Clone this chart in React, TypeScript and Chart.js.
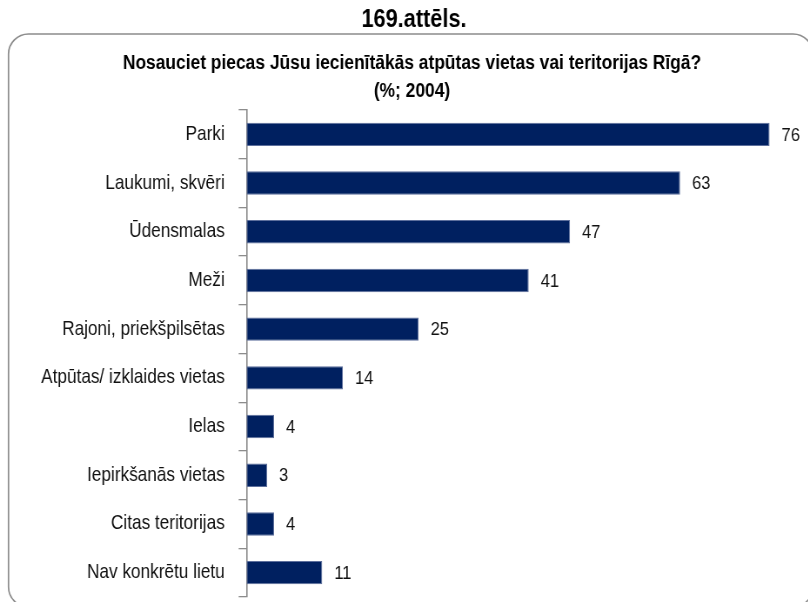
import React, { useEffect, useRef } from "react";
import { Chart, registerables } from "chart.js";

Chart.register(...registerables);

const categories = [
  "Parki",
  "Laukumi, skvēri",
  "Ūdensmalas",
  "Meži",
  "Rajoni, priekšpilsētas",
  "Atpūtas/ izklaides vietas",
  "Ielas",
  "Iepirkšanās vietas",
  "Citas teritorijas",
  "Nav konkrētu lietu",
];
const values = [76, 63, 47, 41, 25, 14, 4, 3, 4, 11];
const figureTitle = "169.attēls.";
const chartTitleLines = [
  "Nosauciet piecas Jūsu iecienītākās atpūtas vietas vai teritorijas Rīgā?",
  "(%; 2004)",
];

const SX = 0.87; // horizontal condensation of the original rendering
const VIEW_W = 808;
const VIEW_H = 602;
const W = Math.round(VIEW_W / SX);
const H = VIEW_H;
const FONT = '"Liberation Sans", Arial, sans-serif';

const framePlugin = {
  id: "frame",
  beforeDraw(chart: any) {
    const ctx = chart.ctx;
    ctx.save();
    ctx.scale(1 / SX, 1);
    const x = 8.5, y = 34, x2 = 813, y2 = 607, r = 20;
    ctx.beginPath();
    ctx.moveTo(x + r, y);
    ctx.arcTo(x2, y, x2, y2, r);
    ctx.arcTo(x2, y2, x, y2, r);
    ctx.arcTo(x, y2, x, y, r);
    ctx.arcTo(x, y, x2, y, r);
    ctx.closePath();
    ctx.strokeStyle = "#8c8c8c";
    ctx.lineWidth = 1.5;
    ctx.stroke();
    ctx.restore();

    ctx.save();
    ctx.fillStyle = "#000";
    ctx.textAlign = "center";
    ctx.textBaseline = "alphabetic";
    ctx.font = `bold 25px ${FONT}`;
    ctx.fillText(figureTitle, 414 / SX, 27);
    ctx.font = `bold 20px ${FONT}`;
    ctx.fillText(chartTitleLines[0], 412 / SX, 69);
    ctx.fillText(chartTitleLines[1], 412 / SX, 96.5);
    ctx.restore();
  },
};

const valueLabelPlugin = {
  id: "valueLabels",
  afterDatasetsDraw(chart: any) {
    const ctx = chart.ctx;
    const meta = chart.getDatasetMeta(0);
    ctx.save();
    ctx.fillStyle = "#111";
    ctx.font = `19px ${FONT}`;
    ctx.textAlign = "left";
    ctx.textBaseline = "middle";
    meta.data.forEach((bar: any, i: number) => {
      ctx.fillText(String(values[i]), bar.x + 12 / SX, bar.y + 1);
    });
    ctx.restore();
  },
};

export default function App() {
  const canvasRef = useRef<HTMLCanvasElement | null>(null);

  useEffect(() => {
    const canvas = canvasRef.current;
    if (!canvas) return;
    const chart = new Chart(canvas, {
      type: "bar",
      data: {
        labels: categories,
        datasets: [
          {
            data: values,
            backgroundColor: "#002060",
            borderColor: "#5d6f9c",
            borderWidth: 1,
            borderSkipped: false,
            barPercentage: 0.48,
            categoryPercentage: 1,
          },
        ],
      },
      options: {
        indexAxis: "y",
        responsive: false,
        devicePixelRatio: 1,
        animation: false,
        layout: {
          padding: { left: 0, right: 12.8, top: 110, bottom: 5 },
        },
        plugins: {
          legend: { display: false },
          title: { display: false },
          tooltip: { enabled: false },
        },
        scales: {
          x: {
            display: false,
            min: 0,
            max: 80,
          },
          y: {
            afterFit(scale: any) {
              scale.width = 246.5 / SX;
              scale.paddingTop = 0;
              scale.paddingBottom = 0;
            },
            grid: {
              display: true,
              drawOnChartArea: false,
              drawTicks: true,
              tickLength: 9,
              color: "#8c8c8c",
              lineWidth: 1.3,
              offset: true,
            },
            border: { display: true, color: "#8c8c8c", width: 1.6 },
            ticks: {
              color: "#111",
              font: { family: FONT, size: 19.8 },
              padding: 16,
              autoSkip: false,
            },
          },
        },
      },
      plugins: [framePlugin, valueLabelPlugin],
    });
    return () => chart.destroy();
  }, []);

  return (
    <div
      style={{
        position: "absolute",
        left: 0,
        top: 0,
        width: VIEW_W,
        height: VIEW_H,
        overflow: "hidden",
        background: "#fff",
      }}
    >
      <canvas
        ref={canvasRef}
        width={W}
        height={H}
        style={{
          display: "block",
          width: W + "px",
          height: H + "px",
          transform: `scaleX(${SX})`,
          transformOrigin: "0 0",
        }}
      />
    </div>
  );
}
